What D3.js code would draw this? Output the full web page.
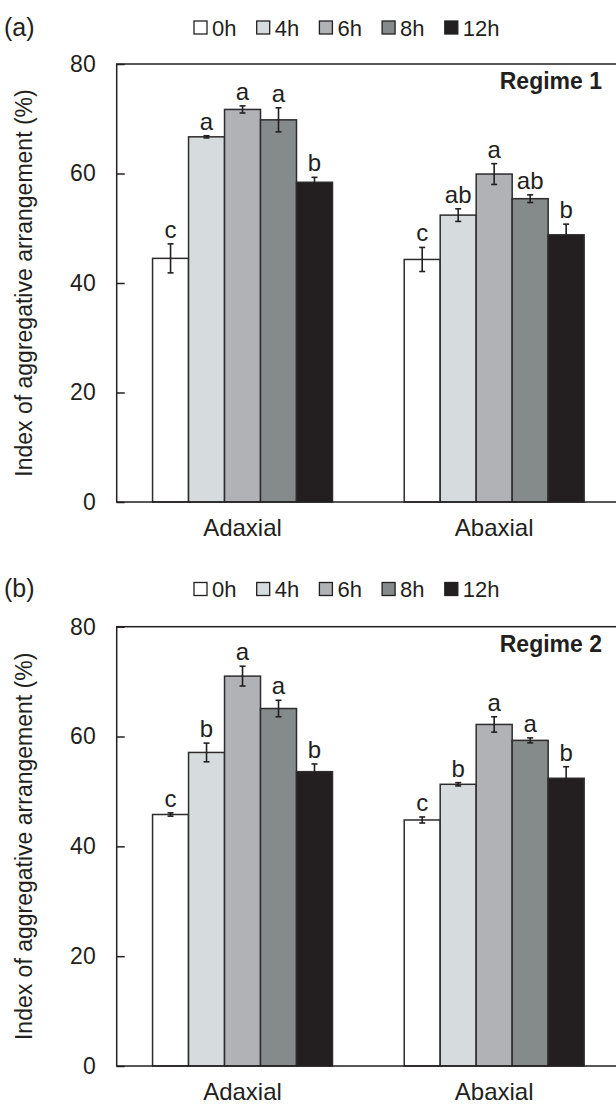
<!DOCTYPE html>
<html>
<head>
<meta charset="utf-8">
<script src="https://cdn.jsdelivr.net/npm/d3@7"></script>
<style>
  body { margin: 0; background: #fff; }
  svg { display: block; font-family: "Liberation Sans", Arial, sans-serif; }
</style>
</head>
<body>
<svg id="chart" width="616" height="1104"></svg>
<script>
// data
var categories = ['Adaxial', 'Abaxial']
var series = ['0h', '4h', '6h', '8h', '12h']
var yTicks = [0, 20, 40, 60, 80]

var regime1Means = [[44.5, 66.7, 71.7, 69.8, 58.4], [44.3, 52.4, 59.9, 55.4, 48.8]]
var regime1Errors = [[2.65, 0.2, 0.65, 2.2, 0.9], [2.2, 1.15, 1.9, 0.7, 1.95]]
var regime1Letters = [['c', 'a', 'a', 'a', 'b'], ['c', 'ab', 'a', 'ab', 'b']]

var regime2Means = [[45.8, 57.1, 71.0, 65.1, 53.6], [44.8, 51.3, 62.2, 59.3, 52.4]]
var regime2Errors = [[0.3, 1.7, 1.8, 1.5, 1.4], [0.55, 0.3, 1.4, 0.45, 2.1]]
var regime2Letters = [['c', 'b', 'a', 'a', 'b'], ['c', 'b', 'a', 'a', 'b']]

var colors = ['#ffffff', '#d6dcde', '#b1b2b6', '#858b8a', '#231f20']
var ink = '#231f20'

var svg = d3.select('#chart')

var left = 116.7, right = 620

var color = d3.scaleOrdinal().domain(series).range(colors)

function drawPanel(opt) {
    var g = svg.append('g')

    var y = d3.scaleLinear().domain([0, 80]).range([opt.bottom, opt.top])
    var x0 = d3.scaleBand().domain(categories).range([left, right])
        .paddingInner(0.285).paddingOuter(0.1425)
    var x1 = d3.scaleBand().domain(series).range([0, x0.bandwidth()])

    // bars
    categories.forEach(function (cat, ci) {
        var grp = g.append('g').attr('transform', 'translate(' + x0(cat) + ',0)')
        var rows = series.map(function (s, si) {
            return { s: s, v: opt.means[ci][si], e: opt.errors[ci][si], l: opt.letters[ci][si] }
        })
        grp.selectAll('rect').data(rows).enter().append('rect')
            .attr('x', d => x1(d.s))
            .attr('y', d => y(d.v))
            .attr('width', x1.bandwidth())
            .attr('height', d => y(0) - y(d.v))
            .attr('fill', d => color(d.s))
            .attr('stroke', '#2e2b2c')
            .attr('stroke-width', 1.5)

        // error bars
        var eb = grp.selectAll('g.err').data(rows).enter().append('g').attr('class', 'err')
            .attr('stroke', ink).attr('stroke-width', 1.6)
        eb.append('line')
            .attr('x1', d => x1(d.s) + x1.bandwidth() / 2)
            .attr('x2', d => x1(d.s) + x1.bandwidth() / 2)
            .attr('y1', d => y(d.v + d.e))
            .attr('y2', d => y(d.v - d.e))
        eb.append('line')
            .attr('x1', d => x1(d.s) + x1.bandwidth() / 2 - 3)
            .attr('x2', d => x1(d.s) + x1.bandwidth() / 2 + 3)
            .attr('y1', d => y(d.v + d.e))
            .attr('y2', d => y(d.v + d.e))
        eb.append('line')
            .attr('x1', d => x1(d.s) + x1.bandwidth() / 2 - 3)
            .attr('x2', d => x1(d.s) + x1.bandwidth() / 2 + 3)
            .attr('y1', d => y(d.v - d.e))
            .attr('y2', d => y(d.v - d.e))

        // significance letters
        grp.selectAll('text.sig').data(rows).enter().append('text')
            .attr('class', 'sig')
            .attr('x', d => x1(d.s) + x1.bandwidth() / 2)
            .attr('y', d => y(d.v + d.e) - 6)
            .attr('text-anchor', 'middle')
            .attr('font-size', 24)
            .attr('fill', ink)
            .text(d => d.l)
    })

    // frame
    g.append('rect')
        .attr('x', left).attr('y', opt.top)
        .attr('width', right - left).attr('height', opt.bottom - opt.top)
        .attr('fill', 'none').attr('stroke', ink).attr('stroke-width', 1.5)

    // y axis
    var ya = g.append('g').attr('transform', 'translate(' + left + ',0)')
        .call(d3.axisLeft(y).tickValues(yTicks).tickSizeInner(-8).tickSizeOuter(0).tickPadding(21))
    ya.select('.domain').remove()
    ya.selectAll('line').attr('stroke', ink).attr('stroke-width', 1.5)
    ya.selectAll('text').attr('font-size', 23).attr('fill', ink)
        .attr('font-family', '"Liberation Sans", Arial, sans-serif')

    // category labels
    g.selectAll('text.cat').data(categories).enter().append('text')
        .attr('class', 'cat')
        .attr('x', d => x0(d) + x0.bandwidth() / 2)
        .attr('y', opt.bottom + 34)
        .attr('text-anchor', 'middle')
        .attr('font-size', 24)
        .attr('fill', ink)
        .text(d => d)

    // y label
    g.append('text')
        .attr('transform', 'translate(32,' + (opt.top + opt.bottom) / 2 + ') rotate(-90)')
        .attr('text-anchor', 'middle')
        .attr('font-size', 23)
        .attr('fill', ink)
        .text('Index of aggregative arrangement (%)')

    // regime label
    g.append('text')
        .attr('x', 602).attr('y', opt.top + 25)
        .attr('text-anchor', 'end')
        .attr('font-size', 23)
        .attr('font-weight', 'bold')
        .attr('fill', ink)
        .text(opt.regime)

    // panel tag
    g.append('text')
        .attr('x', 4).attr('y', opt.legendY + 8)
        .attr('font-size', 25)
        .attr('fill', ink)
        .text(opt.tag)

    // legend
    var lg = g.selectAll('g.leg').data(series).enter().append('g').attr('class', 'leg')
        .attr('transform', (d, i) => 'translate(' + (194 + i * 62.7) + ',' + opt.legendY + ')')
    lg.append('rect')
        .attr('x', 0).attr('y', -6.5).attr('width', 13).attr('height', 13)
        .attr('fill', d => color(d)).attr('stroke', ink).attr('stroke-width', 1.3)
    lg.append('text')
        .attr('x', 18).attr('y', 8)
        .attr('font-size', 22)
        .attr('fill', ink)
        .text(d => d)
}

drawPanel({ top: 64, bottom: 502, legendY: 27.5, tag: '(a)', regime: 'Regime 1',
    means: regime1Means, errors: regime1Errors, letters: regime1Letters })
drawPanel({ top: 626.7, bottom: 1066, legendY: 589, tag: '(b)', regime: 'Regime 2',
    means: regime2Means, errors: regime2Errors, letters: regime2Letters })
</script>
</body>
</html>
